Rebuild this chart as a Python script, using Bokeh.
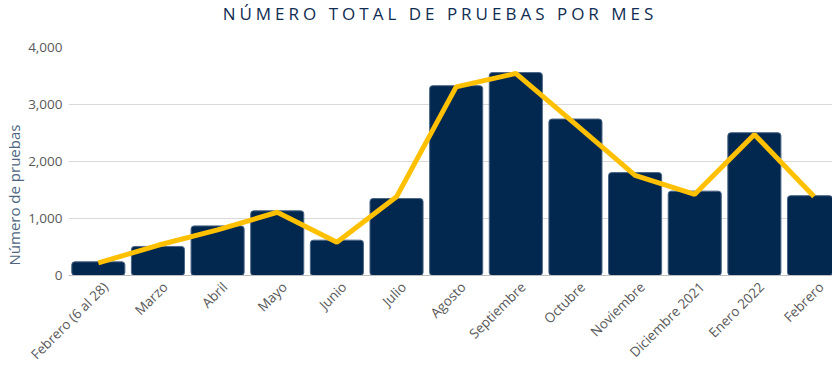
import math
from bokeh.plotting import figure
from bokeh.models import Range1d, FixedTicker, NumeralTickFormatter, Title, Div, ColumnDataSource
from bokeh.layouts import column
from bokeh.embed import file_html
from bokeh.resources import INLINE

title_text = "NÚMERO TOTAL DE PRUEBAS POR MES"
y_label = "Número de pruebas"
categories = ["Febrero (6 al 28)", "Marzo", "Abril", "Mayo", "Junio", "Julio", "Agosto",
              "Septiembre", "Octubre", "Noviembre", "Diciembre 2021", "Enero 2022", "Febrero"]
pruebas = [240, 510, 870, 1135, 620, 1350, 3330, 3560, 2745, 1805, 1480, 2505, 1400]
tendencia = [220, 530, 800, 1110, 585, 1380, 3310, 3545, 2655, 1755, 1425, 2475, 1385]
y_ticks = [0, 1000, 2000, 3000, 4000]

xs = list(range(len(categories)))
src = ColumnDataSource(dict(x=xs, pruebas=pruebas, tendencia=tendencia))

# label anchor offset (in band units) so rotated labels end slightly right of bar centre
label_shift = 0.12
label_ticks = [i + label_shift for i in xs]

p = figure(width=832, height=338, x_range=Range1d(-0.5, 12.31), y_range=Range1d(0, 4000),
           output_backend="svg", toolbar_location=None,
           min_border_left=68, min_border_right=0, min_border_top=13, min_border_bottom=90)
p.outline_line_color = None
p.background_fill_color = "white"
p.border_fill_color = "white"

p.xgrid.visible = False
p.ygrid.ticker = FixedTicker(ticks=y_ticks)
p.ygrid.grid_line_color = "#d9d9d9"
p.ygrid.grid_line_width = 1

p.yaxis.ticker = FixedTicker(ticks=y_ticks)
p.yaxis.formatter = NumeralTickFormatter(format="0,0")
p.yaxis.axis_line_color = None
p.yaxis.major_tick_line_color = None
p.yaxis.minor_tick_line_color = None
p.yaxis.major_tick_out = 0
p.yaxis.major_tick_in = 0
p.yaxis.major_label_standoff = 6
p.yaxis.major_label_text_font = "Open Sans"
p.yaxis.major_label_text_font_size = "13.5px"
p.yaxis.major_label_text_color = "#595959"

p.xaxis.ticker = FixedTicker(ticks=label_ticks)
p.xaxis.major_label_overrides = {t: c for t, c in zip(label_ticks, categories)}
p.xaxis.major_label_orientation = math.pi / 4
p.xaxis.axis_line_color = "#bfbfbf"
p.xaxis.axis_line_width = 1
p.xaxis.major_tick_line_color = None
p.xaxis.minor_tick_line_color = None
p.xaxis.major_tick_out = 0
p.xaxis.major_tick_in = 0
p.xaxis.major_label_standoff = 9
p.xaxis.major_label_text_font = "Open Sans"
p.xaxis.major_label_text_font_size = "13.5px"
p.xaxis.major_label_text_color = "#595959"

p.vbar(x="x", top="pruebas", width=0.89, source=src, fill_color="#03284f",
       line_color="#4a6585", line_width=1, border_radius=3)
p.line(x="x", y="tendencia", source=src, line_color="#ffc000", line_width=5)

p.add_layout(Title(text=y_label, align="left", offset=10, standoff=0, vertical_align="top",
                   text_font="Open Sans", text_font_size="15px", text_font_style="normal",
                   text_color="#4d6580"), "left")

title = Div(text=('<div style="width:832px;box-sizing:border-box;padding-left:38px;'
                  'text-align:center;letter-spacing:4px;font-family:\'Open Sans\';'
                  'font-size:17px;font-weight:500;color:#0f2d52;line-height:17px;">'
                  + title_text + '</div>'), width=832, height=24)

layout = column(title, p, spacing=0)
open("out.html", "w").write(file_html(layout, INLINE))
